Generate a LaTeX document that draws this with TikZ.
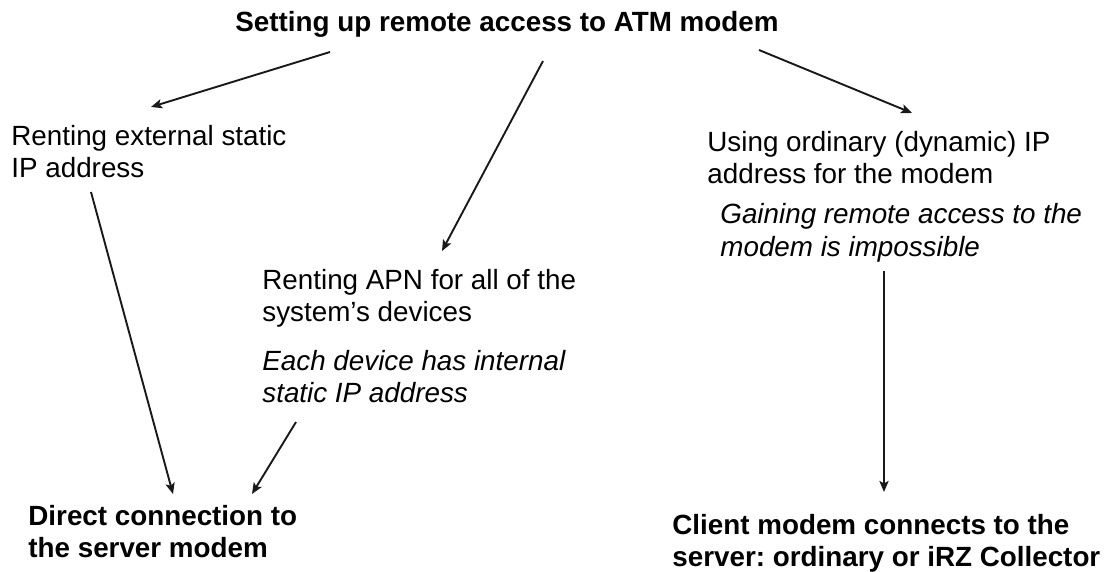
\documentclass[tikz,border=0pt]{standalone}
\usepackage{fontspec}
\setmainfont{Liberation Sans}
\usetikzlibrary{arrows.meta}
\newcommand\mlines[1]{\begin{tabular}[t]{@{}l@{}}#1\end{tabular}}
\frenchspacing
\begin{document}
\begin{tikzpicture}[x=0.5pt,y=-0.5pt,
  txt/.style={anchor=base west, inner sep=0pt, font=\fontsize{13.9}{16}\selectfont},
  head/.style={txt, font=\fontsize{13.9}{16}\selectfont\bfseries},
  note/.style={txt, font=\fontsize{13.9}{16.5}\selectfont\itshape},
  arr/.style={-{Stealth[length=5.5pt,width=4.6pt,inset=1.2pt]}, line width=0.95pt, draw=black!90}]
\fill[white] (0,0) rectangle (1108,572);
\useasboundingbox (0,0) rectangle (1108,572);

% text blocks
\node[head] (title) at (235,32) {Setting up remote access to ATM modem};
\node[txt]  (ext) at (11,146) {\mlines{Renting external static\\IP address}};
\node[txt]  (apn) at (262,290) {\mlines{Renting APN for all of the\\system’s devices}};
\node[note] (apnnote) at (262,370) {\mlines{Each device has internal\\static IP address}};
\node[txt]  (dyn) at (707,152) {\mlines{Using ordinary (dynamic) IP\\address for the modem}};
\node[note] (dynnote) at (720,224) {\mlines{Gaining remote access to the\\modem is impossible}};
\node[head] (direct) at (28,525) {\mlines{Direct connection to\\the server modem}};
\node[head] (client) at (672,534) {\mlines{Client modem connects to the\\server: ordinary or iRZ Collector}};

% connector ends
\coordinate (title-l) at (330,52);
\coordinate (ext-in) at (151,107);
\coordinate (title-m) at (543,61);
\coordinate (apn-in) at (442,251);
\coordinate (title-r) at (759,50);
\coordinate (dyn-in) at (912,113);
\coordinate (ext-out) at (91,192);
\coordinate (direct-in1) at (173,494);
\coordinate (apnnote-out) at (296,422);
\coordinate (direct-in2) at (252,494);
\coordinate (dynnote-out) at (884,271);
\coordinate (client-in) at (884,492);

\draw[arr] (title-l) -- (ext-in);
\draw[arr] (title-m) -- (apn-in);
\draw[arr] (title-r) -- (dyn-in);
\draw[arr] (ext-out) -- (direct-in1);
\draw[arr] (apnnote-out) -- (direct-in2);
\draw[arr] (dynnote-out) -- (client-in);
\end{tikzpicture}
\end{document}
